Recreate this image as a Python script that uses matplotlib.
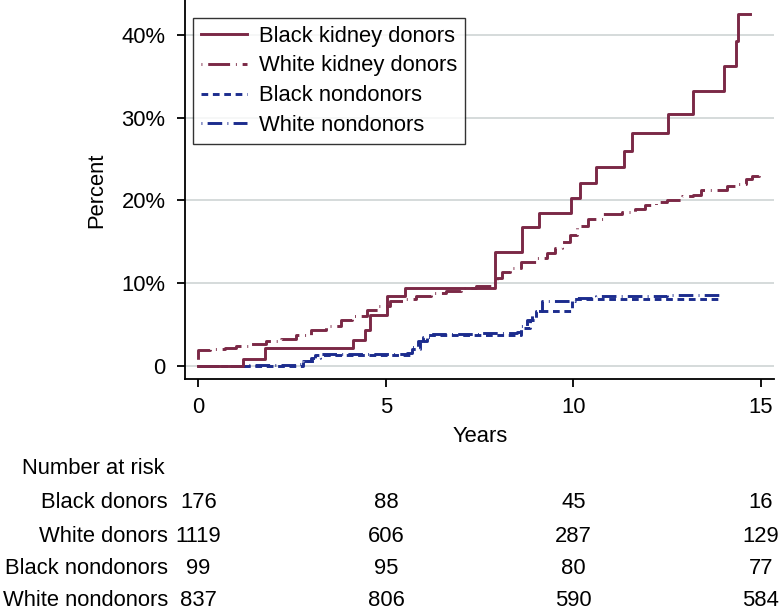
import matplotlib
matplotlib.use("Agg")
import matplotlib.pyplot as plt
from matplotlib.transforms import blended_transform_factory

plt.rcParams['font.family'] = ['Liberation Sans', 'DejaVu Sans']

# ---- data (years, cumulative percent) ----
black_donors_t = [0, 1.2, 1.77, 4.13, 4.44, 4.58, 5.02, 5.5, 7.91, 8.62, 9.07, 9.93,
                  10.18, 10.6, 11.36, 11.56, 12.51, 13.2, 14.02, 14.34, 14.4, 14.72]
black_donors_y = [0, 0.8, 2.2, 3.2, 4.3, 6.2, 8.4, 9.4, 13.8, 16.8, 18.5, 20.3,
                  22.1, 24.0, 26.0, 28.1, 30.4, 33.2, 36.2, 39.2, 42.5, 42.5]

white_donors_t = [0, 0, 0.3, 0.7, 1.0, 1.4, 1.8, 2.2, 2.6, 3.0, 3.4, 3.8, 4.1, 4.5, 4.8,
                  5.1, 5.5, 5.8, 6.2, 6.6, 7.0, 7.4, 7.8, 7.95, 8.1, 8.3, 8.6, 9.0,
                  9.3, 9.5, 9.7, 9.9, 10.1, 10.4, 10.8, 11.3, 11.65, 11.9, 12.2, 12.5,
                  12.9, 13.2, 13.4, 14.1, 14.4, 14.6, 14.75, 14.95]
white_donors_y = [0, 1.9, 2.0, 2.2, 2.4, 2.7, 3.0, 3.3, 3.8, 4.3, 4.8, 5.5, 6.0, 6.8, 7.3,
                  7.8, 8.1, 8.4, 8.8, 9.1, 9.4, 9.7, 10.0, 10.6, 11.3, 11.8, 12.6, 13.1,
                  13.6, 14.2, 15.0, 15.8, 16.9, 17.7, 18.3, 18.6, 19.0, 19.5, 19.8, 20.1,
                  20.5, 20.7, 21.3, 21.7, 22.0, 22.6, 23.0, 23.3]

black_nondonors_t = [0, 2.8, 3.1, 5.7, 5.9, 6.1, 8.6, 8.85, 9.0, 9.95, 13.95]
black_nondonors_y = [0, 0.6, 1.3, 2.0, 3.0, 3.8, 4.6, 5.6, 6.6, 8.1, 8.1]

white_nondonors_t = [0, 1.24, 2.62, 2.8, 3.0, 3.24, 5.56, 5.7, 5.85, 6.0, 6.18, 7.5,
                     8.49, 8.6, 8.75, 8.9, 9.03, 9.16, 10.05, 10.6, 11.5, 12.5, 13.94]
white_nondonors_y = [0, 0.1, 0.2, 0.6, 1.0, 1.4, 1.6, 2.3, 3.0, 3.5, 3.9, 4.0,
                     4.1, 4.8, 5.6, 6.3, 6.7, 7.8, 8.2, 8.4, 8.5, 8.6, 8.6]

series_labels = ["Black kidney donors", "White kidney donors",
                 "Black nondonors", "White nondonors"]

x_ticks = [0, 5, 10, 15]
y_ticks = [0, 10, 20, 30, 40]
y_tick_labels = ["0", "10%", "20%", "30%", "40%"]

risk_labels = ["Black donors", "White donors", "Black nondonors", "White nondonors"]
black_donors_risk = [176, 88, 45, 16]
white_donors_risk = [1119, 606, 287, 129]
black_nondonors_risk = [99, 95, 80, 77]
white_nondonors_risk = [837, 806, 590, 584]

# ---- styles ----
MAROON = "#7b2846"
NAVY = "#1c2c8e"
FS = 15.8
W, H = 780, 611

fig = plt.figure(figsize=(W / 100, H / 100), dpi=100)
ax = fig.add_axes([185 / W, 1 - 379 / H, (774 - 185) / W, 379 / H])

lw = 2.1
ax.step(black_donors_t, black_donors_y, where='post', color=MAROON, lw=lw,
        linestyle='-', label=series_labels[0], zorder=4)
ax.step(white_donors_t, white_donors_y, where='post', color=MAROON, lw=lw,
        linestyle=(0, (0.3, 2.0, 7.5, 2.0)), label=series_labels[1], zorder=3)
ax.step(black_nondonors_t, black_nondonors_y, where='post', color=NAVY, lw=lw,
        linestyle=(0, (2.3, 1.6)), label=series_labels[2], zorder=3)
ax.step(white_nondonors_t, white_nondonors_y, where='post', color=NAVY, lw=lw,
        linestyle=(0, (0.3, 1.8, 5.0, 1.8)), label=series_labels[3], zorder=3)

ax.set_xlim(-0.36, 15.35)
ax.set_ylim(-1.57, 44.2)

ax.set_xticks(x_ticks)
ax.set_xticklabels([str(v) for v in x_ticks])
ax.set_yticks(y_ticks)
ax.set_yticklabels(y_tick_labels)

for v in y_ticks:
    ax.axhline(v, color="#d5dada", lw=1.4, zorder=1)

for s in ['top', 'right']:
    ax.spines[s].set_visible(False)
for s in ['left', 'bottom']:
    ax.spines[s].set_linewidth(1.3)
ax.tick_params(axis='both', direction='out', length=6, width=1.3,
               labelsize=FS, colors='black')
ax.tick_params(axis='y', pad=8)
ax.tick_params(axis='x', pad=7)

leg = ax.legend(loc='upper left', bbox_to_anchor=(193 / W, 1 - 18 / H),
                bbox_transform=fig.transFigure, borderaxespad=0,
                fontsize=FS, frameon=True, fancybox=False, handlelength=2.1,
                labelspacing=0.4, borderpad=0.35, handletextpad=0.55)
leg.get_frame().set_edgecolor('black')
leg.get_frame().set_linewidth(1.0)

fig.text(97 / W, 1 - 190 / H, "Percent", rotation=90, ha='center', va='center', fontsize=FS)
fig.text(480 / W, 1 - 437 / H, "Years", ha='center', va='center', fontsize=FS)

# ---- number at risk table ----
fig.text(22 / W, 1 - 468 / H, "Number at risk", ha='left', va='center', fontsize=FS)
tr = blended_transform_factory(ax.transData, fig.transFigure)
rows = [black_donors_risk, white_donors_risk, black_nondonors_risk, white_nondonors_risk]
row_y = [502, 536, 569, 601]
for lab, vals, yp in zip(risk_labels, rows, row_y):
    fig.text(168 / W, 1 - yp / H, lab, ha='right', va='center', fontsize=FS)
    for xv, n in zip(x_ticks, vals):
        ax.text(xv, 1 - yp / H, str(n), transform=tr, ha='center', va='center',
                fontsize=FS, clip_on=False)

fig.savefig("out.png", dpi=100)
